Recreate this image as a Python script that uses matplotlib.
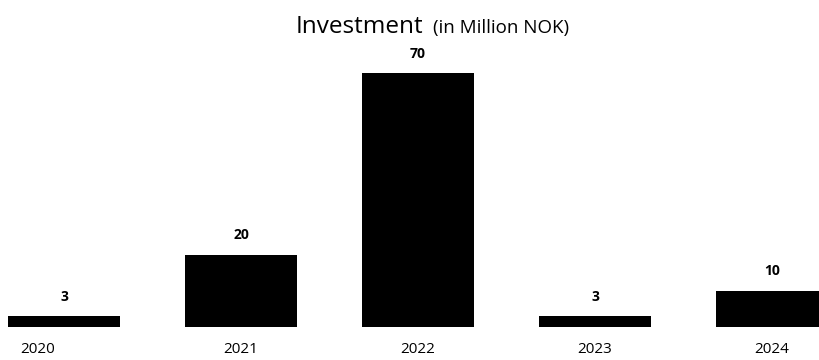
import matplotlib.pyplot as plt
import matplotlib.transforms as mtransforms

# data
years = ["2020", "2021", "2022", "2023", "2024"]
invest = [3, 20, 70, 3, 10]

plt.rcParams['font.family'] = ['Open Sans', 'DejaVu Sans']

fig = plt.figure(figsize=(8.19, 3.6), dpi=100)
ax = fig.add_axes([0.0, 33 / 360, 1.0, 290 / 360])

x = range(len(years))
bars = ax.bar(x, invest, width=0.63, color='black')

for b, v in zip(bars, invest):
    ax.annotate(str(v), (b.get_x() + b.get_width() / 2, b.get_height()),
                xytext=(0, 9), textcoords='offset points',
                ha='center', va='bottom', fontsize=10, fontweight='bold')

ax.set_xlim(-0.362, 4.266)
ax.set_ylim(0, 80)
ax.set_xticks(list(x))
ax.set_xticklabels(years, fontsize=11)
ax.tick_params(axis='x', length=0, pad=11)
ax.set_yticks([])
for s in ax.spines.values():
    s.set_visible(False)

# first year label sits a bit left in the original
lbl = ax.get_xticklabels()[0]
lbl.set_transform(lbl.get_transform() +
                  mtransforms.ScaledTranslation(-26 / 100, 0, fig.dpi_scale_trans))

# title in two sizes
fig.text(296 / 819, 1 - 33 / 360, "Investment", fontsize=17.5,
         va='baseline', ha='left')
fig.text(433 / 819, 1 - 33 / 360, "(in Million NOK)", fontsize=13.5,
         va='baseline', ha='left')

fig.savefig("out.png", dpi=100)
